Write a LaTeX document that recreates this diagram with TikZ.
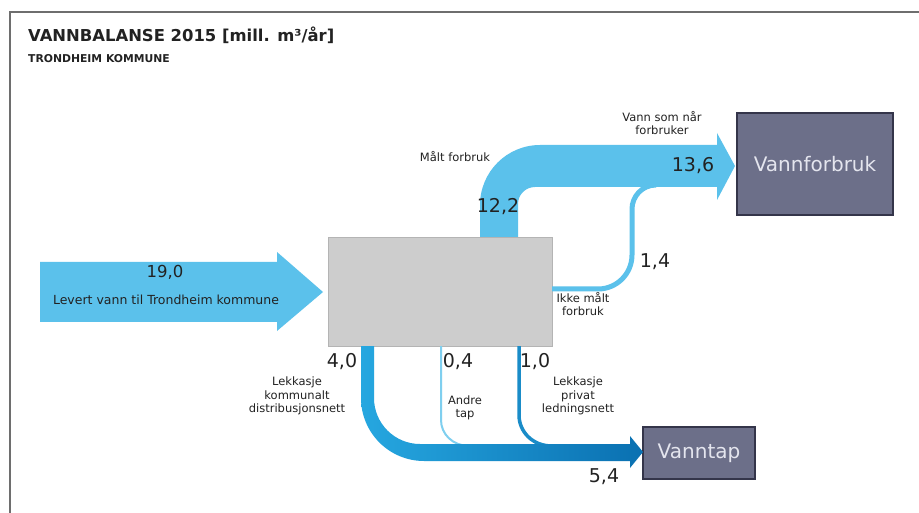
\documentclass[tikz,border=0pt]{standalone}
\usepackage{fontspec}
\setmainfont{DejaVu Sans}
\definecolor{flowlight}{HTML}{5BC1EB}
\definecolor{flowmid}{HTML}{26A7E0}
\definecolor{flowdark}{HTML}{0A70B1}
\definecolor{flowline}{HTML}{1A8CC8}
\definecolor{flowthin}{HTML}{7FCFEF}
\definecolor{hubfill}{HTML}{CDCDCD}
\definecolor{hubedge}{HTML}{B4B4B4}
\definecolor{slate}{HTML}{6C6F89}
\definecolor{slateedge}{HTML}{34354A}
\definecolor{sinktext}{HTML}{E4E5EE}
\definecolor{framegray}{HTML}{6E6E6E}
\definecolor{ink}{HTML}{222222}
\begin{document}
\begin{tikzpicture}[x=1pt,y=-1pt,
  lbl/.style={font=\fontsize{11.5}{13.5}\selectfont, text=ink, align=center, inner sep=0pt},
  num/.style={font=\fontsize{19}{22}\selectfont, text=ink, inner sep=0pt},
  sink/.style={draw=slateedge, line width=1.2pt, fill=slate, text=sinktext,
    font=\fontsize{20}{24}\selectfont, inner sep=0pt},
  hubbox/.style={draw=hubedge, line width=0.8pt, fill=hubfill, inner sep=0pt}]
\useasboundingbox (0,0) rectangle (919,513);
\fill[white] (0,0) rectangle (919,513);
\draw[framegray, line width=2pt] (10,513) -- (10,12) -- (919,12);

% headings
\node[anchor=base west, inner sep=0pt, text=ink, font=\bfseries\fontsize{16.4}{19}\selectfont]
  (title) at (28,42) {VANNBALANSE 2015 [mill. m³/år]};
\node[anchor=base west, inner sep=0pt, text=ink, font=\bfseries\fontsize{10.8}{13}\selectfont]
  (subtitle) at (28,63) {TRONDHEIM KOMMUNE};

% boxes
\node[hubbox, anchor=north west, minimum width=224pt, minimum height=109pt] (hub) at (328,237) {};
\node[sink, minimum width=156pt, minimum height=102pt] (use) at (815,164) {Vannforbruk};
\node[sink, minimum width=112pt, minimum height=52pt] (loss) at (699,453) {Vanntap};

% incoming supply arrow
\fill[flowlight] (40,262) -- (277,262) -- (277,252) -- (323,292) -- (277,331) -- (277,322) -- (40,322) -- cycle;

% metered consumption, bending up and right into the consumer arrow
\fill[flowlight] (480,237) -- (480,205) .. controls (480,171.9) and (506.9,145) .. (540,145)
  -- (717,145) -- (717,133) -- (735,166) -- (717,200) -- (717,187) -- (535,187)
  .. controls (525.6,187) and (518,194.6) .. (518,204) -- (518,237) -- cycle;

% unmetered consumption
\draw[flowlight, line width=5pt] (552,289) -- (598,289) .. controls (616.8,289) and (632,273.8) .. (632,255)
  -- (632,209) .. controls (632,196.8) and (641.8,185) .. (656,185);

% other losses and private leakage
\draw[flowthin, line width=2pt] (441,346) -- (441,420) .. controls (441,433.8) and (452.2,446) .. (470,446);
\draw[flowline, line width=3.5pt] (519,346) -- (519,415) .. controls (519,431.6) and (532.4,446) .. (552,446);

% municipal leakage, collecting into the loss arrow
\shade[left color=flowmid, right color=flowdark]
  (361,346) -- (361,398) .. controls (361,432.8) and (389.2,461) .. (424,461)
  -- (630,461) -- (630,468) -- (643,452) -- (630,436) -- (630,444) -- (420,444)
  .. controls (394.6,444) and (374,423.4) .. (374,398) -- (374,346) -- cycle;

% labels
\node[num, font=\fontsize{16.5}{20}\selectfont] (n190) at (165,272) {19,0};
\node[lbl, font=\fontsize{12.5}{15}\selectfont] (lin) at (166,300) {Levert vann til Trondheim kommune};
\node[lbl] (lmet) at (455,157) {Målt forbruk};
\node[num] (n122) at (498,207) {12,2};
\node[lbl] (lreach) at (662,123) {Vann som når\\forbruker};
\node[num] (n136) at (693,166) {13,6};
\node[num] (n14) at (655,262) {1,4};
\node[lbl] (lunmet) at (583,304) {Ikke målt\\forbruk};
\node[num] (n40) at (342,362) {4,0};
\node[num] (n04) at (458,362) {0,4};
\node[num] (n10) at (535,362) {1,0};
\node[lbl] (lmun) at (297,396) {Lekkasje\\kommunalt\\distribusjonsnett};
\node[lbl] (lother) at (465,408) {Andre\\tap};
\node[lbl] (lpriv) at (578,396) {Lekkasje\\privat\\ledningsnett};
\node[num] (n54) at (604,477) {5,4};
\end{tikzpicture}
\end{document}
